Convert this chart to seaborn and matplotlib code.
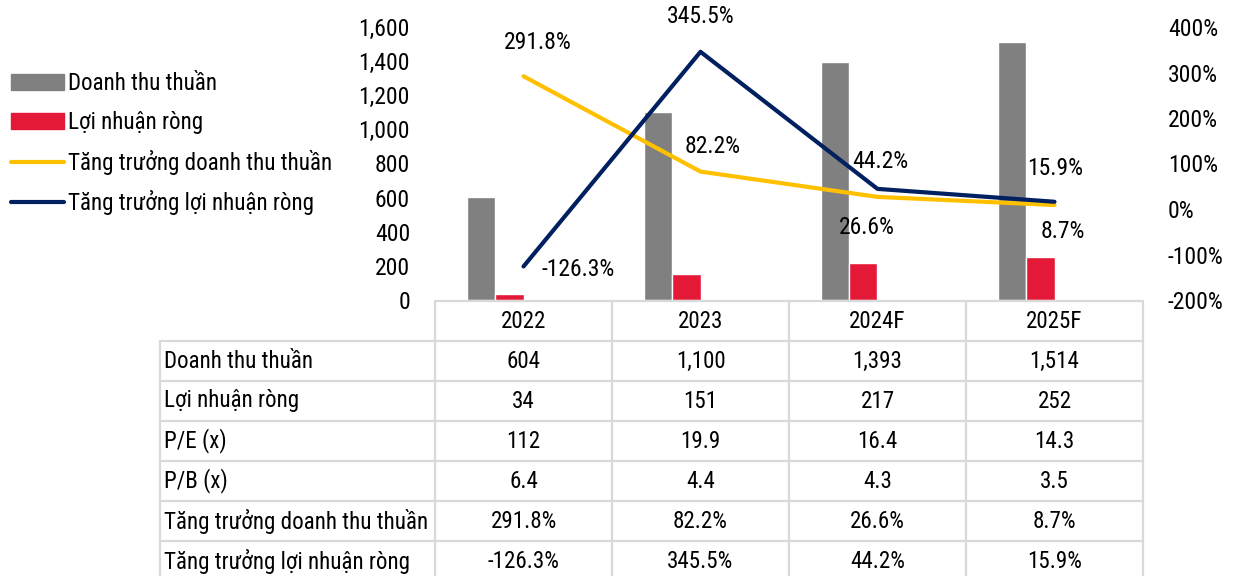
import numpy as np
import pandas as pd
import matplotlib
matplotlib.use('Agg')
import matplotlib.pyplot as plt
import seaborn as sns
from matplotlib.patches import Patch
from matplotlib.lines import Line2D
from matplotlib.ticker import FuncFormatter

# ---- data ----
years = ['2022', '2023', '2024F', '2025F']
revenue = [604, 1100, 1393, 1514]
net_profit = [34, 151, 217, 252]
pe = ['112', '19.9', '16.4', '14.3']
pb = ['6.4', '4.4', '4.3', '3.5']
rev_growth = [291.8, 82.2, 26.6, 8.7]
profit_growth = [-126.3, 345.5, 44.2, 15.9]

row_labels = ['Doanh thu thuần', 'Lợi nhuận ròng', 'P/E (x)', 'P/B (x)',
              'Tăng trưởng doanh thu thuần', 'Tăng trưởng lợi nhuận ròng']

GRAY, RED, YELLOW, NAVY = '#808080', '#e31937', '#ffc000', '#002060'
GRID = '#d9d9d9'
FS = 16.6

sns.set_style('white')
plt.rcParams['font.family'] = ['Roboto Condensed', 'DejaVu Sans']
plt.rcParams['font.size'] = FS
plt.rcParams['text.color'] = 'black'
plt.rcParams['ytick.color'] = 'black'

W, H = 1239, 576
fig = plt.figure(figsize=(W / 100, H / 100), dpi=100)

def fx(px):
    return px / W

def fy(py):
    return 1 - py / H

ax = fig.add_axes([fx(435), fy(300), fx(1143) - fx(435), fy(27) - fy(300)])

# bars (two extra empty hue levels keep Excel-like offset to the left)
bar_df = pd.DataFrame({
    'year': years * 2,
    'series': ['Doanh thu thuần'] * 4 + ['Lợi nhuận ròng'] * 4,
    'value': revenue + net_profit,
})
sns.barplot(data=bar_df, x='year', y='value', hue='series',
            hue_order=['Doanh thu thuần', 'Lợi nhuận ròng', 'pad1', 'pad2'],
            palette=[GRAY, RED, 'white', 'white'], saturation=1,
            width=0.633, gap=0, legend=False, ax=ax)
ax.set_ylim(0, 1600)
ax.set_xlim(-0.5, 3.5)
ax.set_yticks(range(0, 1601, 200))
ax.yaxis.set_major_formatter(FuncFormatter(lambda v, p: f'{v:,.0f}'))
ax.set_xticks([])
ax.set_xlabel('')
ax.set_ylabel('')
ax.tick_params(axis='y', length=0, pad=18, labelsize=17)

# growth lines on right axis
ax2 = ax.twinx()
xs = np.arange(len(years))
sns.lineplot(x=xs, y=rev_growth, ax=ax2, color=YELLOW, lw=3)
sns.lineplot(x=xs, y=profit_growth, ax=ax2, color=NAVY, lw=3)
ax2.set_ylim(-200, 400)
ax2.set_xlim(-0.5, 3.5)
ax2.set_yticks(range(-200, 401, 100))
ax2.yaxis.set_major_formatter(FuncFormatter(lambda v, p: f'{v:.0f}%'))
ax2.tick_params(axis='y', length=0, pad=18, labelsize=17)

for a in (ax, ax2):
    for s in a.spines.values():
        s.set_visible(False)

# data labels (offsets in pixels)
rev_off = [(14, 34), (12, 25), (-11, -31), (8, -26)]
prof_off = [(55, -3), (0, 35), (3, 27), (1, 33)]
for x, v, o in zip(xs, rev_growth, rev_off):
    ax2.annotate(f'{v:.1f}%', (x, v), xytext=o, textcoords='offset pixels',
                 ha='center', va='center', fontsize=17)
for x, v, o in zip(xs, profit_growth, prof_off):
    ax2.annotate(f'{v:.1f}%', (x, v), xytext=o, textcoords='offset pixels',
                 ha='center', va='center', fontsize=17)

# legend
handles = [Patch(color=GRAY), Patch(color=RED),
           Line2D([], [], color=YELLOW, lw=3), Line2D([], [], color=NAVY, lw=3)]
labels = ['Doanh thu thuần', 'Lợi nhuận ròng',
          'Tăng trưởng doanh thu thuần', 'Tăng trưởng lợi nhuận ròng']
fig.legend(handles, labels, loc='upper left', bbox_to_anchor=(fx(2), fy(63)),
           frameon=False, fontsize=FS, handlelength=2.3, handletextpad=0.15,
           labelspacing=0.68, borderaxespad=0)

# ---- table ----
col_edges = [435, 612, 789, 966, 1143]
centers = [(a + b) / 2 for a, b in zip(col_edges[:-1], col_edges[1:])]
row_h = 40
top = 301

def hline(y, x0, x1):
    fig.add_artist(Line2D([fx(x0), fx(x1)], [fy(y), fy(y)], transform=fig.transFigure,
                          color=GRID, lw=1.6))

def vline(x, y0, y1):
    fig.add_artist(Line2D([fx(x), fx(x)], [fy(y0), fy(y1)], transform=fig.transFigure,
                          color=GRID, lw=1.6))

hline(top, 435, 1143)
for i in range(len(row_labels)):
    hline(top + row_h * (i + 1), 160, 1143)
vline(160, top + row_h, H + 5)
for x in col_edges:
    vline(x, top, H + 5)

for c, yr in zip(centers, years):
    fig.text(fx(c), fy(top + row_h / 2), yr, ha='center', va='center', fontsize=FS)

table_vals = [
    [f'{v:,}' for v in revenue],
    [str(v) for v in net_profit],
    pe,
    pb,
    [f'{v:.1f}%' for v in rev_growth],
    [f'{v:.1f}%' for v in profit_growth],
]
for i, (lab, vals) in enumerate(zip(row_labels, table_vals)):
    yc = top + row_h * (i + 1) + row_h / 2
    fig.text(fx(164), fy(yc), lab, ha='left', va='center', fontsize=FS)
    for c, v in zip(centers, vals):
        fig.text(fx(c), fy(yc), v, ha='center', va='center', fontsize=FS)

fig.savefig('out.png', dpi=100)
